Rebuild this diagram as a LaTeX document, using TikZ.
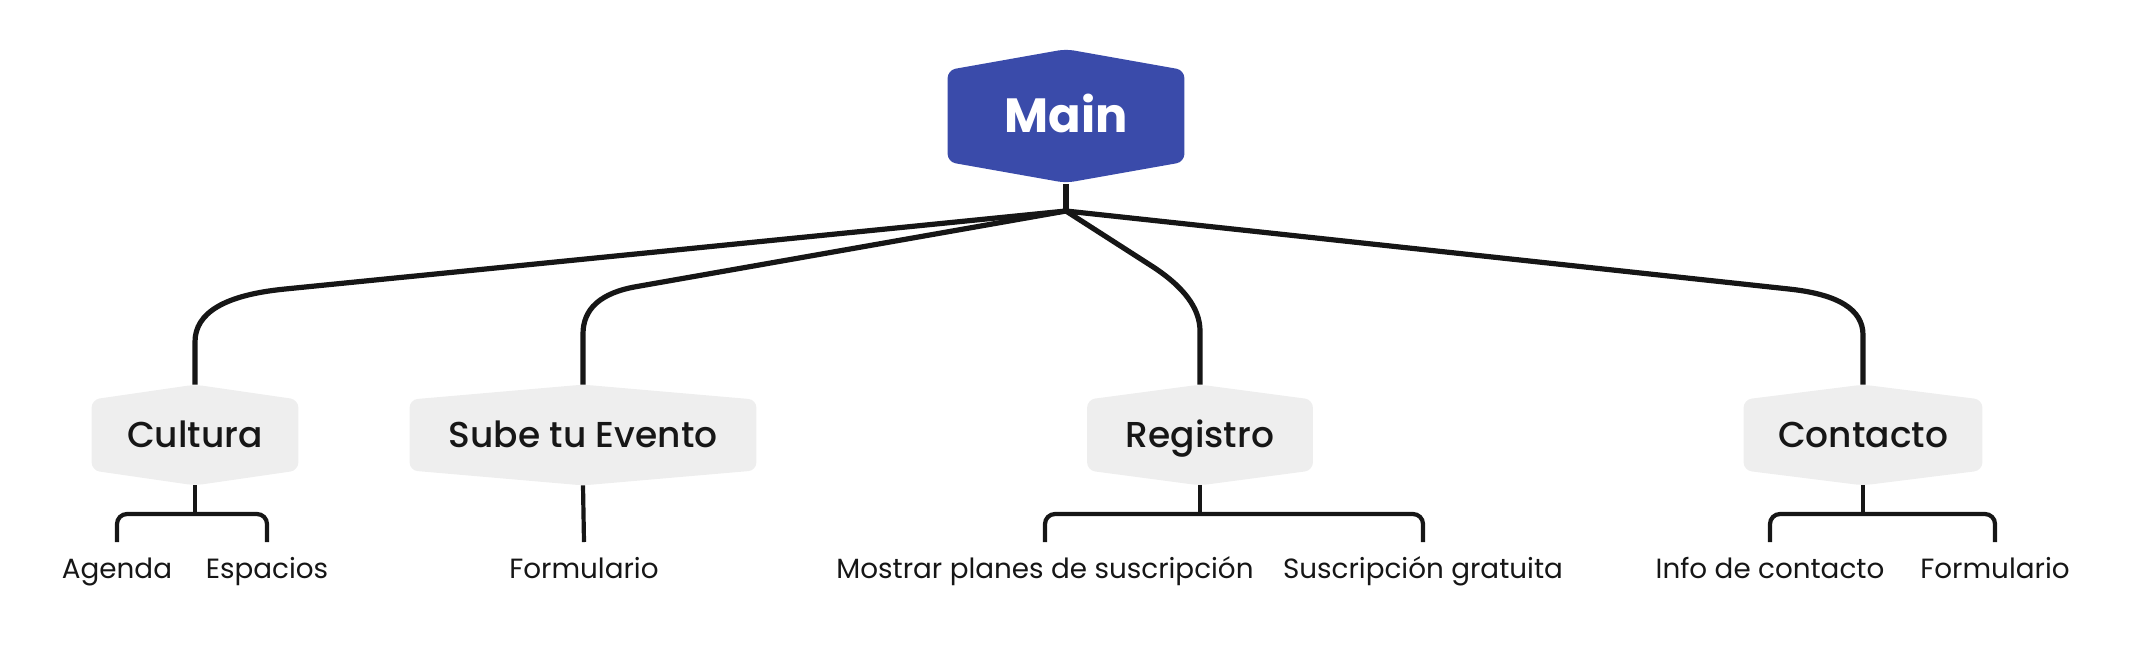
\documentclass[tikz,border=0pt]{standalone}
\usepackage{fontspec}
\setmainfont{Poppins}
\newfontfamily\popmed{Poppins Medium}
\usetikzlibrary{calc,backgrounds}
\definecolor{mainblue}{HTML}{3A4BAA}
\definecolor{boxgray}{HTML}{EEEEEE}
\definecolor{ink}{HTML}{161616}
\newcommand\hexfill[3]{%
  \fill[#3,rounded corners=4pt] ($(#1.north)+(0,-#2)$) -- (#1.north east) -- (#1.south east)
    -- ($(#1.south)+(0,#2)$) -- (#1.south west) -- (#1.north west) -- cycle;}
\begin{document}
\begin{tikzpicture}[x=0.5pt,y=-0.5pt,
  mainbox/.style={inner sep=0pt,minimum width=118pt,minimum height=45.5pt,text=white,
    text height=16.8pt,text depth=0pt,
    font=\bfseries\fontsize{24}{28}\selectfont},
  topic/.style={inner sep=0pt,minimum height=35pt,text=ink,
    text height=12.6pt,text depth=0pt,
    font=\popmed\fontsize{18}{22}\selectfont},
  leaf/.style={inner sep=0pt,text=ink,text height=9.7pt,text depth=0pt,
    font=\fontsize{13.9}{17}\selectfont},
  link/.style={draw=ink,line width=2.6pt},
  sub/.style={draw=ink,line width=2.1pt,rounded corners=5pt}]
\useasboundingbox (0,0) rectangle (2132,650);

% nodes
\node[mainbox] (main) at (1066,116) {Main};
\node[topic,minimum width=103pt] (cul) at (195,435) {Cultura};
\node[topic,minimum width=173pt] (sub) at (583,435) {Sube tu Evento};
\node[topic,minimum width=112.5pt] (reg) at (1200,435) {Registro};
\node[topic,minimum width=119pt] (con) at (1863,435) {Contacto};

\node[leaf] (age) at (117,569) {Agenda};
\node[leaf] (esp) at (267,569) {Espacios};
\node[leaf] (for1) at (584,569) {Formulario};
\node[leaf] (mos) at (1045,569) {Mostrar planes de suscripción};
\node[leaf] (sus) at (1423,569) {Suscripción gratuita};
\node[leaf] (inf) at (1770,569) {Info de contacto};
\node[leaf] (for2) at (1995,569) {Formulario};

\begin{scope}[on background layer]
  \hexfill{main}{21}{mainblue}
  \hexfill{cul}{15}{boxgray}
  \hexfill{sub}{15}{boxgray}
  \hexfill{reg}{15}{boxgray}
  \hexfill{con}{15}{boxgray}
\end{scope}

% main stem and junction
\coordinate (J) at (1066,211);
\draw[link] ($(main.south)+(0,22)$) -- (J);

% corner points of the branch elbows
\coordinate (k1) at (195,298);
\coordinate (k2) at (583,296);
\coordinate (k3) at (1200,297);
\coordinate (k4) at (1863,297);
\coordinate (a1) at ($(k1)!45pt!(J)$);
\coordinate (a2) at ($(k2)!27pt!(J)$);
\coordinate (a3) at ($(k3)!29pt!(J)$);
\coordinate (a4) at ($(k4)!37pt!(J)$);
\coordinate (b1) at ($(k1)+(0,44)$);
\coordinate (b2) at ($(k2)+(0,38)$);
\coordinate (b3) at ($(k3)+(0,34)$);
\coordinate (b4) at ($(k4)+(0,38)$);

\foreach \i/\n in {1/cul,2/sub,3/reg,4/con}{
  \draw[link] (J) -- (a\i) .. controls ($(a\i)!0.667!(k\i)$) and ($(b\i)!0.667!(k\i)$) .. (b\i)
    -- ($(\n.north)+(0,-15)$);
}

% sub-branches
\draw[sub] ($(cul.south)+(0,15)$) -- ++(0,29);
\draw[sub] ($(age)+(0,-27)$) -- ($(age)+(0,-55)$) -- ($(esp)+(0,-55)$) -- ($(esp)+(0,-27)$);

\draw[sub] ($(sub.south)+(0,15)$) -- ($(for1)+(0,-27)$);

\draw[sub] ($(reg.south)+(0,15)$) -- ++(0,29);
\draw[sub] ($(mos)+(0,-27)$) -- ($(mos)+(0,-55)$) -- ($(sus)+(0,-55)$) -- ($(sus)+(0,-27)$);

\draw[sub] ($(con.south)+(0,15)$) -- ++(0,29);
\draw[sub] ($(inf)+(0,-27)$) -- ($(inf)+(0,-55)$) -- ($(for2)+(0,-55)$) -- ($(for2)+(0,-27)$);
\end{tikzpicture}
\end{document}
